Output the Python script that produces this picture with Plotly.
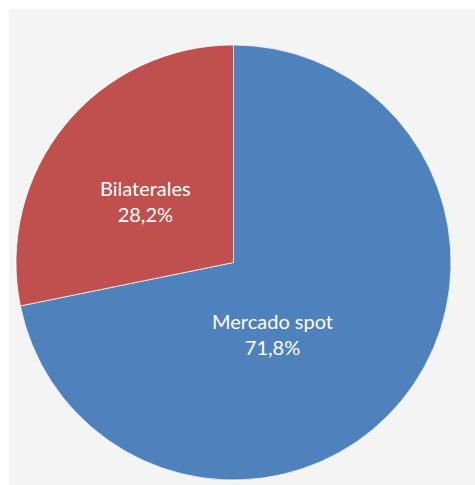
import plotly.graph_objects as go

# Share of energy traded by contract type
labels = ["Mercado spot", "Bilaterales"]
shares = [71.8, 28.2]
colors = ["#4F81BD", "#C0504D"]

W, H = 475, 485

fig = go.Figure(
    go.Pie(
        labels=labels,
        values=shares,
        sort=False,
        direction="clockwise",
        rotation=0,
        marker=dict(colors=colors, line=dict(color="rgba(255,255,255,0.7)", width=1)),
        textinfo="none",
        hoverinfo="label+percent",
        showlegend=False,
        domain=dict(x=[16 / W, 451 / W], y=[5 / H, 440 / H]),
    )
)

# Label positions (pixel centres) for each slice's text
label_px = {"Mercado spot": (272, 334), "Bilaterales": (145, 201)}

for lab, val in zip(labels, shares):
    px, py = label_px[lab]
    txt = f"{lab}<br>{val:.1f}%".replace(".", ",")
    fig.add_annotation(
        x=px / W, y=1 - py / H, xref="paper", yref="paper",
        text=txt, showarrow=False,
        font=dict(family="Lato", size=20, color="white"),
        align="center", xanchor="center", yanchor="middle",
    )

# Light grey chart area inset from the top and left edges
fig.add_shape(
    type="rect", xref="paper", yref="paper",
    x0=9 / W, x1=1, y0=0, y1=1 - 9 / H,
    fillcolor="#F4F4F4", line=dict(width=0), layer="below",
)

fig.update_layout(
    width=W, height=H,
    margin=dict(l=0, r=0, t=0, b=0),
    paper_bgcolor="white",
    plot_bgcolor="white",
)

fig.write_html("out.html")
